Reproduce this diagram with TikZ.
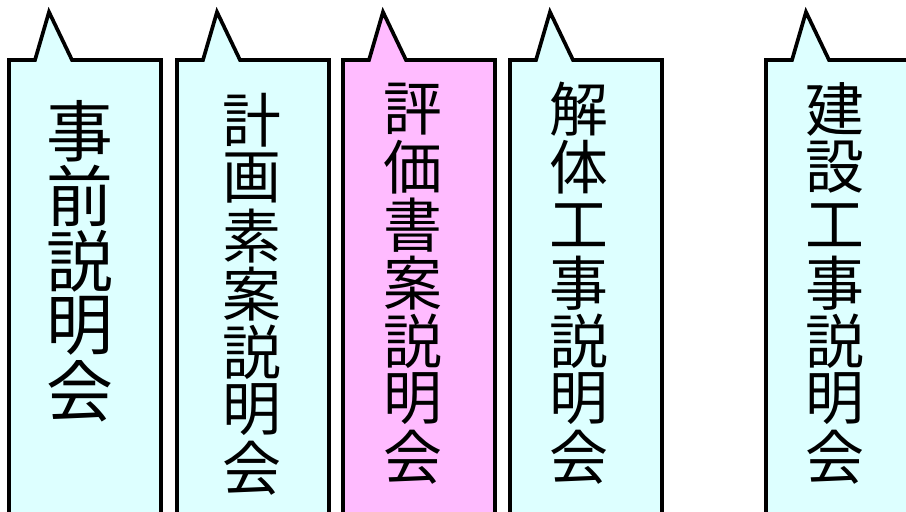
\documentclass[tikz,border=0pt]{standalone}
\usepackage{fontspec}
\newfontfamily\jpfont{Noto Sans CJK JP}
\definecolor{paleblue}{RGB}{221,255,255}
\definecolor{palepink}{RGB}{255,187,255}
\tikzset{
  balloon/.style={draw=black,line width=2.1pt,line join=miter,fill=#1},
  bigchar/.style={inner sep=0pt,font={\jpfont\fontsize{38}{38}\selectfont}},
  midchar/.style={inner sep=0pt,font={\jpfont\fontsize{33.5}{33.5}\selectfont}}
}
\begin{document}
\begin{tikzpicture}[x=0.02cm,y=-0.02cm]
\clip (0,0) rectangle (906,511);
\fill[white] (0,0) rectangle (906,511);
\foreach \l/\c in {9/paleblue,177/paleblue,343/palepink,510/paleblue,766/paleblue}
  \draw[balloon=\c] (\l,540) -- (\l,60) -- ++(26,0) -- ++(14,-48) -- ++(23,48) -- ++(89,0) -- ++(0,480) -- cycle;
\foreach \t [count=\i] in {事,前,説,明,会}
  \node[bigchar] (jizen\i) at (80,{131+65*(\i-1)}) {\t};
\foreach \t [count=\i] in {計,画,素,案,説,明,会}
  \node[midchar] (keikaku\i) at (252,{120+58*(\i-1)}) {\t};
\foreach \t [count=\i] in {評,価,書,案,説,明,会}
  \node[midchar] (hyoka\i) at (413,{109+58*(\i-1)}) {\t};
\foreach \t [count=\i] in {解,体,工,事,説,明,会}
  \node[midchar] (kaitai\i) at (579,{109+58*(\i-1)}) {\t};
\foreach \t [count=\i] in {建,設,工,事,説,明,会}
  \node[midchar] (kensetsu\i) at (835,{109+58*(\i-1)}) {\t};
\end{tikzpicture}
\end{document}
